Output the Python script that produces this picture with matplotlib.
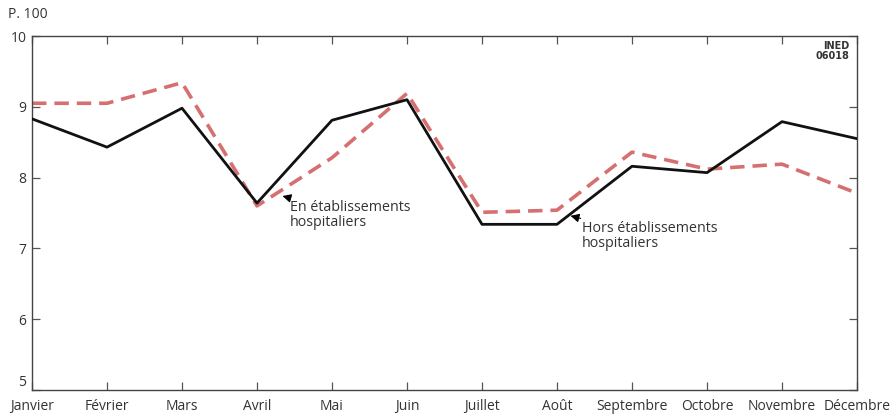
import matplotlib.pyplot as plt

months = ["Janvier", "Février", "Mars", "Avril", "Mai", "Juin", "Juillet",
          "Août", "Septembre", "Octobre", "Novembre", "Décembre"]
hors = [8.83, 8.43, 8.98, 7.64, 8.81, 9.10, 7.34, 7.34, 8.16, 8.07, 8.79, 8.55]
en_etab = [9.05, 9.05, 9.34, 7.60, 8.28, 9.19, 7.51, 7.54, 8.36, 8.12, 8.19, 7.78]
y_ticks = [5, 6, 7, 8, 9, 10]

plt.rcParams["font.family"] = ["Open Sans", "DejaVu Sans"]
text_color = "#333333"

fig = plt.figure(figsize=(8.95, 4.15), dpi=100)
ax = fig.add_axes([32 / 895, 25 / 415, 825 / 895, 354 / 415])

x = list(range(len(months)))
ax.plot(x, hors, color="#111111", lw=2.0, zorder=3)
ax.plot(x, en_etab, color="#d67070", lw=2.6, dashes=(4, 2.2), zorder=2)

ax.set_xlim(0, len(months) - 1)
ax.set_ylim(5, 10)
ax.set_xticks(x)
ax.set_xticklabels(months)
ax.set_yticks(y_ticks)

ax.tick_params(axis="both", direction="in", length=6, width=0.9, color="#555555",
               labelsize=10, labelcolor=text_color, top=True, right=True)
ax.tick_params(axis="x", pad=6.5)
ax.tick_params(axis="y", pad=4)
for side in ax.spines.values():
    side.set_linewidth(1.0)
    side.set_color("#444444")
# lift the bottom "5" a little so it clears "Janvier"
ax.get_yticklabels()[0].set_verticalalignment("bottom")

fig.text(8 / 895, 1 - 14 / 415, "P. 100", fontsize=10, color=text_color, va="center")
ax.text(0.991, 0.985, "INED\n06018", transform=ax.transAxes, ha="right", va="top",
        fontsize=7, fontweight="bold", color=text_color, linespacing=0.95,
        family=["DejaVu Sans"])

arrow = dict(arrowstyle="-|>,head_length=0.5,head_width=0.25",
             color="black", lw=0.8, shrinkA=0, shrinkB=0)
ax.annotate("En établissements\nhospitaliers", xy=(3.34, 7.74), xytext=(3.44, 7.26),
            fontsize=10.3, color=text_color, linespacing=1.0, va="bottom",
            arrowprops=arrow)
ax.annotate("Hors établissements\nhospitaliers", xy=(7.18, 7.46), xytext=(7.33, 6.96),
            fontsize=10.3, color=text_color, linespacing=1.0, va="bottom",
            arrowprops=arrow)

fig.savefig("out.png", dpi=100)
